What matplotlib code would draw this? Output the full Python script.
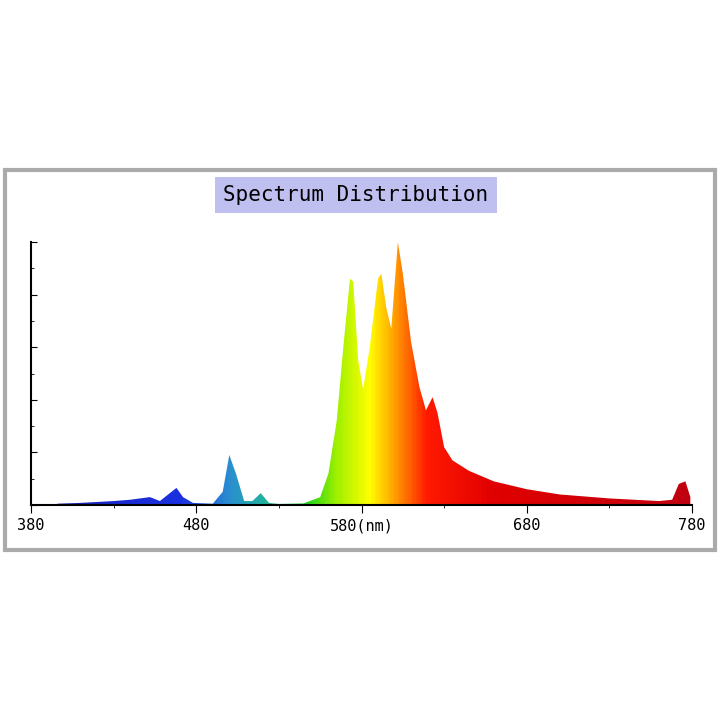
import numpy as np
import matplotlib.pyplot as plt
from matplotlib.colors import LinearSegmentedColormap
from matplotlib.patches import Rectangle, Polygon

# wavelength (nm) and relative intensity
wavelength = [396, 410, 430, 440, 446, 452, 458, 463, 468, 472, 478, 490, 496, 500, 504, 509, 514, 519, 524,
              530, 545, 555, 560, 565, 569, 573, 575, 578, 581, 585, 590, 592, 595, 598, 602, 605, 610,
              615, 619, 623, 626, 630, 635, 645, 660, 680, 700, 730, 760, 768, 772, 776, 779]
intensity = [0.005, 0.008, 0.015, 0.02, 0.025, 0.03, 0.015, 0.04, 0.065, 0.03, 0.008, 0.005, 0.05, 0.19, 0.12,
             0.015, 0.015, 0.045, 0.008, 0.004, 0.006, 0.03, 0.12, 0.32, 0.6, 0.86, 0.85, 0.55, 0.44, 0.6,
             0.86, 0.88, 0.75, 0.67, 1.0, 0.88, 0.62, 0.45, 0.36, 0.41, 0.35, 0.22, 0.17, 0.13, 0.09, 0.06,
             0.04, 0.025, 0.015, 0.02, 0.08, 0.09, 0.03]
x_ticks = [380, 480, 580, 680, 780]
x_labels = ["380", "480", "580(nm)", "680", "780"]

spec_nm = [380, 430, 470, 500, 520, 545, 565, 585, 600, 620, 660, 780]
spec_col = ["#1a1a90", "#1a2acf", "#1a30e0", "#2a8fcf", "#20b0a0", "#10d020", "#a0f000", "#ffff00",
            "#ffa000", "#ff1a00", "#e00000", "#c00010"]
cmap = LinearSegmentedColormap.from_list(
    "spec", [((n - 380) / 400, c) for n, c in zip(spec_nm, spec_col)])

fig = plt.figure(figsize=(7.2, 7.2), dpi=100)
fig.patches.append(Rectangle((5 / 720, 170 / 720), 710 / 720, 380 / 720, transform=fig.transFigure,
                             fill=False, edgecolor="#aaaaaa", linewidth=3))

ax = fig.add_axes([31 / 720, 215 / 720, 661 / 720, 263 / 720])
ax.set_xlim(380, 780)
ax.set_ylim(0, 1)
img = ax.imshow(np.linspace(0, 1, 400).reshape(1, -1), cmap=cmap, extent=[380, 780, 0, 1],
                aspect="auto", interpolation="bilinear")
pts = [(wavelength[0], 0)] + list(zip(wavelength, intensity)) + [(wavelength[-1], 0)]
clip = Polygon(pts, transform=ax.transData, facecolor="none", edgecolor="none")
ax.add_patch(clip)
img.set_clip_path(clip)

for s in ["top", "right"]:
    ax.spines[s].set_visible(False)
ax.spines["left"].set_linewidth(1.5)
ax.spines["bottom"].set_linewidth(1.5)
ax.set_xticks(x_ticks)
ax.set_xticklabels(x_labels, family="DejaVu Sans Mono", fontsize=11)
ax.set_xticks([430, 530, 630, 730], minor=True)
ax.set_yticks(np.linspace(0, 1, 6))
ax.set_yticklabels([])
ax.set_yticks(np.linspace(0, 1, 11), minor=True)
ax.tick_params(axis="y", direction="in", length=4)
ax.tick_params(axis="y", which="minor", direction="in", length=2)
ax.tick_params(axis="x", length=6)

fig.text(356 / 720, 1 - 195 / 720, "Spectrum Distribution", ha="center", va="center", fontsize=15,
         family="DejaVu Sans Mono",
         bbox=dict(boxstyle="square,pad=0.4", facecolor="#c0c0f0", edgecolor="none"))

fig.savefig("out.png", dpi=100)
